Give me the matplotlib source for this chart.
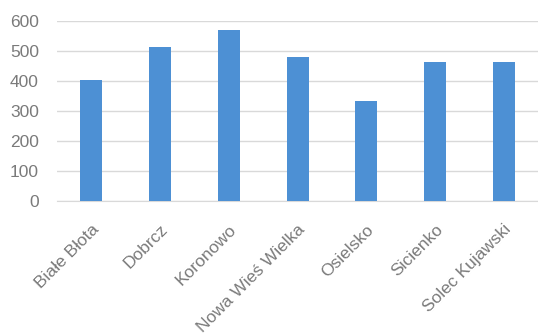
import matplotlib
matplotlib.use("Agg")
import matplotlib.pyplot as plt
import numpy as np

categories = ['Białe Błota', 'Dobrcz', 'Koronowo', 'Nowa Wieś Wielka',
              'Osielsko', 'Sicienko', 'Solec Kujawski']
values = [403, 514, 570, 481, 334, 463, 462]
y_ticks = [0, 100, 200, 300, 400, 500, 600]

plt.rcParams['font.family'] = ['Liberation Sans', 'DejaVu Sans']

fig = plt.figure(figsize=(5.38, 3.34), dpi=100)
ax = fig.add_axes([0.106, 0.398, 0.894, 0.539])

x = np.arange(len(categories))
ax.bar(x, values, width=0.32, color='#4d90d4', zorder=3)

ax.set_xlim(-0.5, len(categories) - 0.5)
ax.set_ylim(0, 600)
ax.set_yticks(y_ticks)
ax.set_yticklabels([str(v) for v in y_ticks], fontsize=12.5, color='#7a7a7a')
ax.set_xticks(x)
ax.set_xticklabels(categories, rotation=45, ha='right', rotation_mode='anchor',
                   fontsize=12.5, color='#7a7a7a')
ax.tick_params(axis='y', length=0, pad=13)
ax.tick_params(axis='x', length=0, pad=15)
ax.grid(axis='y', color='#d9d9d9', linewidth=1, zorder=0)
for s in ['top', 'right', 'left']:
    ax.spines[s].set_visible(False)
ax.spines['bottom'].set_color('#d9d9d9')

fig.savefig('out.png', dpi=100)
